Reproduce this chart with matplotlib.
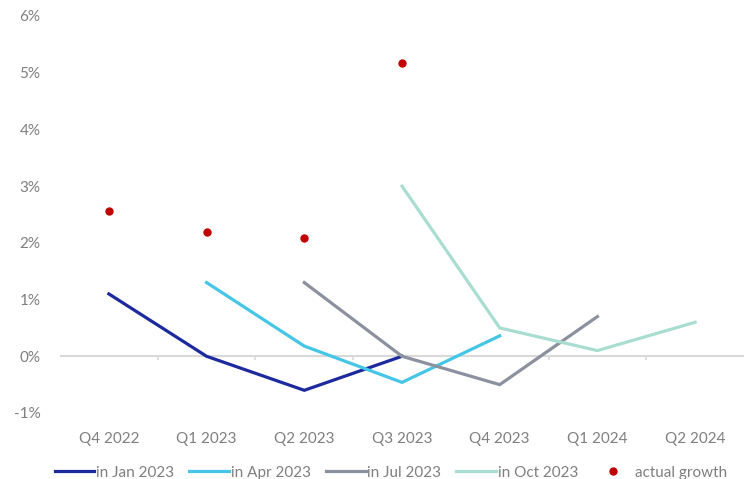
import matplotlib
matplotlib.use("Agg")
import matplotlib.pyplot as plt
import numpy as np

plt.rcParams['font.family'] = ['Lato', 'DejaVu Sans']

categories = ["Q4 2022", "Q1 2023", "Q2 2023", "Q3 2023", "Q4 2023", "Q1 2024", "Q2 2024"]
series_names = ["in Jan 2023", "in Apr 2023", "in Jul 2023", "in Oct 2023"]
jan_2023 = [1.1, 0.0, -0.6, 0.0, None, None, None]
apr_2023 = [None, 1.3, 0.18, -0.46, 0.36, None, None]
jul_2023 = [None, None, 1.3, 0.0, -0.5, 0.7, None]
oct_2023 = [None, None, None, 3.0, 0.5, 0.1, 0.6]
actual_growth = [2.57, 2.2, 2.08, 5.17, None, None, None]
y_ticks = [-1, 0, 1, 2, 3, 4, 5, 6]

colors = ["#1c2a9e", "#45c6e6", "#8b919f", "#a9ddd1"]
red = "#c00000"

fig = plt.figure(figsize=(7.47, 4.79), dpi=100)
ax = fig.add_axes([0.0803, 0.1378, 0.9157, 0.8288])

x = np.arange(len(categories))

def arr(v):
    return np.array([np.nan if a is None else a for a in v], dtype=float)

# zero line and boundary ticks
ax.axhline(0, color="#d9d9d9", lw=1.5, zorder=1)
bounds = np.arange(len(categories) + 1) - 0.5
ax.vlines(bounds[1:-1], -0.06, 0, color="#d9d9d9", lw=1.2, zorder=1)

handles = []
for name, vals, c in zip(series_names, [jan_2023, apr_2023, jul_2023, oct_2023], colors):
    h, = ax.plot(x, arr(vals), color=c, lw=2.3, label=name, zorder=3,
                 solid_joinstyle="miter")
    handles.append(h)
h2, = ax.plot(x, arr(actual_growth), "o", color=red, ms=5, ls="none",
              label="actual growth", zorder=4)
handles.append(h2)

ax.set_xlim(-0.5, len(categories) - 0.5)
ax.set_ylim(-1, 6)
ax.set_yticks(y_ticks)
ax.set_yticklabels([f"{t}%" for t in y_ticks])
ax.set_xticks(x)
ax.set_xticklabels(categories)
for s in ax.spines.values():
    s.set_visible(False)
ax.tick_params(axis="y", length=0, pad=14, labelsize=11, labelcolor="#7f7f7f")
ax.tick_params(axis="x", length=0, pad=14, labelsize=11, labelcolor="#7f7f7f")

leg = fig.legend(handles=handles, loc="lower center", ncol=5,
                 bbox_to_anchor=(0.523, -0.03), frameon=False,
                 handlelength=2.6, handletextpad=0.1, columnspacing=1.0,
                 fontsize=11)
for t in leg.get_texts():
    t.set_color("#7f7f7f")

fig.savefig("out.png", dpi=100)
